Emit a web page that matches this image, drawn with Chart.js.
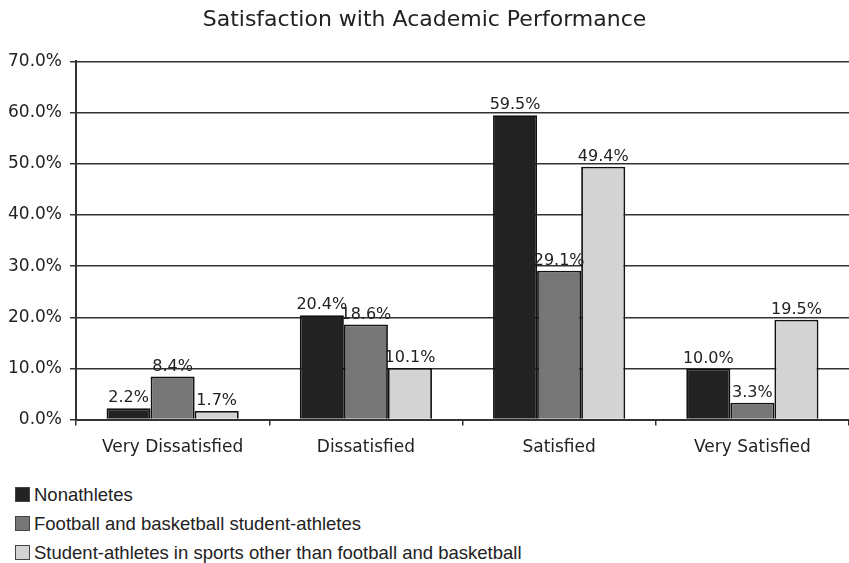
<!DOCTYPE html>
<html>
<head>
<meta charset="utf-8">
<script src="https://cdn.jsdelivr.net/npm/chart.js@4.4.1/dist/chart.umd.min.js"></script>
<style>
  body { margin: 0; background: #fff; }
  #wrap { position: relative; width: 849px; height: 470px; }
  #legend { padding-top: 10px; padding-left: 15px; font-family: "Liberation Sans", Arial, sans-serif; font-size: 18.5px; color: #222; }
  #legend div { height: 29px; display: flex; align-items: center; }
  #legend span.box { display: inline-block; width: 15px; height: 15px; border: 1px solid #444; margin-right: 4px; box-sizing: border-box; }
</style>
</head>
<body>
<div id="wrap"><canvas id="grafico"></canvas></div>
<div id="legend"></div>
<script>
const categorias = ['Very Dissatisfied', 'Dissatisfied', 'Satisfied', 'Very Satisfied'];
const nonathletes = [2.2, 20.4, 59.5, 10.0];
const footballBasketball = [8.4, 18.6, 29.1, 3.3];
const otrosDeportes = [1.7, 10.1, 49.4, 19.5];
const series = ['Nonathletes', 'Football and basketball student-athletes', 'Student-athletes in sports other than football and basketball'];
const colores = ['#222222', '#767676', '#d3d3d3'];

const fuente = '"DejaVu Sans", Verdana, sans-serif';

// etiquetas de valor encima de cada barra
const etiquetasValor = {
    id: 'etiquetasValor',
    afterDatasetsDraw(chart) {
        const ctx = chart.ctx;
        ctx.save();
        ctx.font = '16px ' + fuente;
        ctx.fillStyle = '#222';
        ctx.textAlign = 'center';
        ctx.textBaseline = 'bottom';
        chart.data.datasets.forEach((ds, i) => {
            chart.getDatasetMeta(i).data.forEach((bar, j) => {
                ctx.fillText(ds.data[j].toFixed(1) + '%', bar.x, bar.y - 2);
            });
        });
        ctx.restore();
    }
};

const ctx = document.getElementById('grafico').getContext('2d');
const grafico = new Chart(ctx, {
    type: 'bar',
    data: {
        labels: categorias,
        datasets: [nonathletes, footballBasketball, otrosDeportes].map((d, i) => ({
            label: series[i],
            data: d,
            backgroundColor: colores[i],
            borderColor: '#111',
            borderWidth: 1.8,
            barPercentage: 1,
            categoryPercentage: 0.684
        }))
    },
    options: {
        responsive: true,
        maintainAspectRatio: false,
        animation: false,
        layout: { padding: { left: 0, right: 0, top: 0, bottom: 0 } },
        plugins: {
            legend: { display: false },
            tooltip: { enabled: false },
            title: {
                display: true,
                text: 'Satisfaction with Academic Performance',
                color: '#222',
                font: { family: fuente, size: 22, weight: 'normal' },
                padding: { top: 7, bottom: 28 }
            }
        },
        scales: {
            x: {
                grid: { display: true, drawOnChartArea: false, drawTicks: true, tickLength: 6, color: '#333', lineWidth: 1.5 },
                border: { color: '#333', width: 2 },
                ticks: { color: '#222', font: { family: fuente, size: 17 }, padding: 12 }
            },
            y: {
                min: 0,
                max: 70,
                ticks: {
                    stepSize: 10,
                    color: '#222',
                    font: { family: fuente, size: 17 },
                    padding: 8,
                    callback: v => v.toFixed(1) + '%'
                },
                grid: { color: '#333', lineWidth: 1.5, tickLength: 6 },
                border: { color: '#333', width: 2 }
            }
        }
    },
    plugins: [etiquetasValor]
});

// leyenda vertical debajo del gráfico
const leyenda = document.getElementById('legend');
grafico.data.datasets.forEach(ds => {
    const fila = document.createElement('div');
    fila.innerHTML = '<span class="box" style="background:' + ds.backgroundColor + '"></span>' + ds.label;
    leyenda.appendChild(fila);
});
</script>
</body>
</html>
